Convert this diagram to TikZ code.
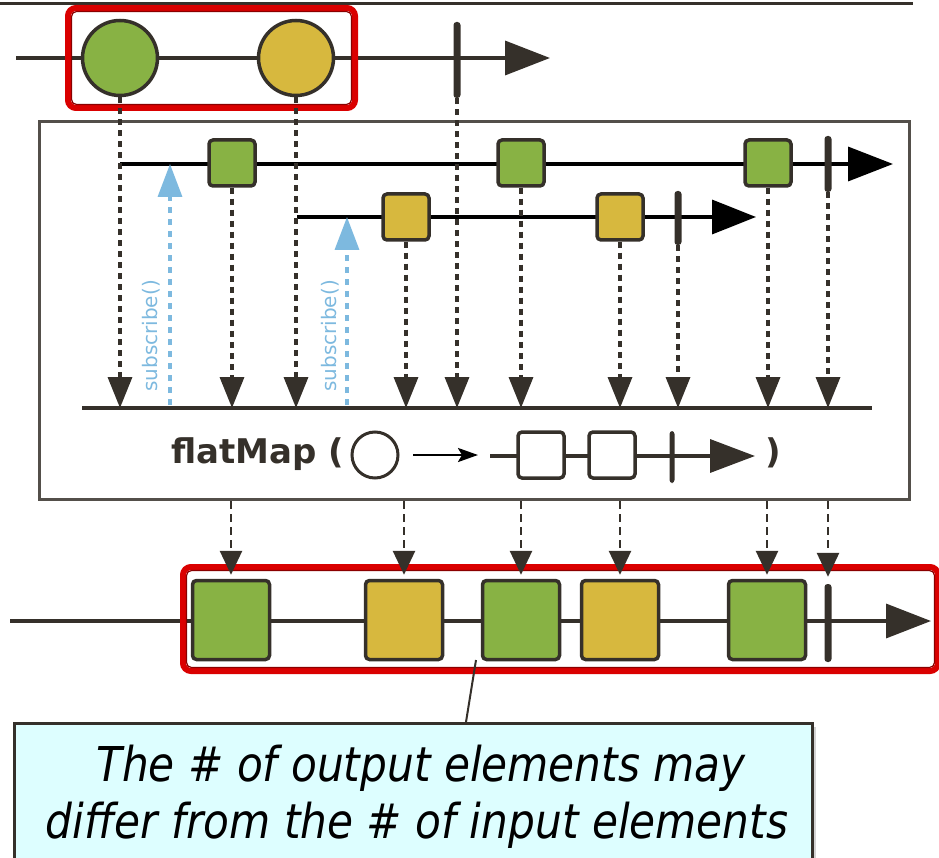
\documentclass[tikz,border=0pt]{standalone}
\usepackage{fontspec}
\setmainfont{DejaVu Sans}
\newfontfamily\notefont[FakeStretch=0.88]{DejaVu Sans}
\usetikzlibrary{arrows.meta,shadows}

\definecolor{ink}{HTML}{35302A}
\definecolor{mgreen}{HTML}{88B244}
\definecolor{mgold}{HTML}{D7B83E}
\definecolor{subblue}{HTML}{7DB9DF}
\definecolor{hilite}{HTML}{DA0000}
\definecolor{hilitedark}{HTML}{8A0000}
\definecolor{notefill}{HTML}{DDFEFF}

\begin{document}
\begin{tikzpicture}[x=1pt,y=-1pt,
  axis/.style={draw=ink,line width=3.5pt},
  bigtip/.style={-{Triangle[length=45pt,width=34pt]}},
  marble/.style={circle,draw=ink,line width=3.5pt,minimum size=75pt,inner sep=0pt},
  item/.style={rectangle,rounded corners=4pt,draw=ink,line width=3.5pt,minimum size=46pt,inner sep=0pt},
  outitem/.style={item,minimum width=77pt,minimum height=79pt},
  endbar/.style={rectangle,fill=ink,rounded corners=3pt,minimum width=7pt,inner sep=0pt},
  drop/.style={draw=ink,line width=3.5pt,dash pattern=on 6pt off 5pt,-{Triangle[length=31pt,width=24pt]}},
  outdrop/.style={draw=ink,line width=2.8pt,dash pattern=on 8pt off 5pt,-{Triangle[length=24pt,width=22pt]}},
  sub/.style={draw=subblue,line width=3.5pt,dash pattern=on 6pt off 6pt,-{Triangle[length=33pt,width=24pt]}},
  frame/.style={draw=hilite,line width=6pt,rounded corners=8pt},
  frameedge/.style={draw=hilitedark,line width=1.2pt,rounded corners=5pt},
  sublabel/.style={rotate=90,text=subblue,font=\fontsize{20}{24}\selectfont,inner sep=0pt}
]
\useasboundingbox (0,0) rectangle (939,858);

% header rule
\draw[ink,line width=3pt] (0,4) -- (913,4);

% ---------- source stream ----------
\coordinate (srcL) at (16,58);
\coordinate (srcR) at (550,58);
\draw[axis,bigtip] (srcL) -- (srcR);
\node[marble,fill=mgreen] (c1) at (120,58) {};
\node[marble,fill=mgold]  (c2) at (296,58) {};
\node[endbar,minimum height=76pt] (t0) at (457,60) {};
\draw[frame] (68,8) rectangle (355,108);
\draw[frameedge] (71.5,11.5) rectangle (351.5,104.5);

% ---------- operator box ----------
\node[draw=ink!85,line width=3pt,minimum width=870pt,minimum height=378pt,
      anchor=north west,inner sep=0pt] (op) at (38,120) {};

% inner stream 1 (green)
\coordinate (a1L) at (120,164);
\coordinate (a1R) at (893,164);
\draw[draw=black,line width=3.5pt,bigtip] (a1L) -- (a1R);
\node[item,fill=mgreen] (g1) at (232,163) {};
\node[item,fill=mgreen] (g2) at (521,163) {};
\node[item,fill=mgreen] (g3) at (768,163) {};
\node[endbar,minimum height=56pt] (t1) at (828,164) {};

% inner stream 2 (gold)
\coordinate (a2L) at (297,217);
\coordinate (a2R) at (756,217);
\draw[draw=black,line width=3.5pt,-{Triangle[length=44pt,width=34pt]}] (a2L) -- (a2R);
\node[item,fill=mgold] (y1) at (406,217) {};
\node[item,fill=mgold] (y2) at (620,217) {};
\node[endbar,minimum height=54pt] (t2) at (678,218) {};

% merge line
\coordinate (mL) at (82,408);
\coordinate (mR) at (872,408);
\draw[axis] (mL) -- (mR);

% subscriptions
\coordinate (s1) at (170,405);
\coordinate (s2) at (347,405);
\draw[sub] (s1) -- (a1L -| s1);
\draw[sub] (s2) -- (a2L -| s2);
\node[sublabel] (l1) at (151,336) {subscribe()};
\node[sublabel] (l2) at (330,336) {subscribe()};

% emissions onto the merge line
\draw[drop] (c1.south) -- (c1.south |- mL);
\draw[drop] (g1.south) -- (g1.south |- mL);
\draw[drop] (c2.south) -- (c2.south |- mL);
\draw[drop] (y1.south) -- (y1.south |- mL);
\draw[drop] (t0.south) -- (t0.south |- mL);
\draw[drop] (g2.south) -- (g2.south |- mL);
\draw[drop] (y2.south) -- (y2.south |- mL);
\draw[drop] (t2.south) -- (t2.south |- mL);
\draw[drop] (g3.south) -- (g3.south |- mL);
\draw[drop] (t1.south) -- (t1.south |- mL);

% operator signature
\node[anchor=base west,inner sep=0pt,text=ink,font=\fontsize{34}{40}\selectfont\bfseries] (fm) at (171,463) {flatMap (};
\node[circle,draw=ink,line width=3pt,minimum size=46pt,inner sep=0pt] (fc) at (375,455) {};
\coordinate (fa) at (413,455);
\coordinate (fb) at (478,455);
\draw[black,line width=2.5pt,-{Stealth[length=20pt,width=14pt,inset=4pt]}] (fa) -- (fb);
\coordinate (fsL) at (490,456);
\coordinate (fsR) at (755,456);
\draw[axis,-{Triangle[length=45pt,width=33pt]}] (fsL) -- (fsR);
\node[item,fill=white] (w1) at (541,455) {};
\node[item,fill=white] (w2) at (612,455) {};
\node[endbar,minimum width=5pt,minimum height=52pt] (t3) at (672,457) {};
\node[anchor=base,inner sep=0pt,text=ink,font=\fontsize{34}{40}\selectfont\bfseries] (fp) at (773,463) {)};

% ---------- result stream ----------
\coordinate (oL) at (10,621);
\coordinate (oR) at (931,621);
\draw[axis,bigtip] (oL) -- (oR);
\node[outitem,fill=mgreen] (o1) at (231,620) {};
\node[outitem,fill=mgold]  (o2) at (404,620) {};
\node[outitem,fill=mgreen] (o3) at (521,620) {};
\node[outitem,fill=mgold]  (o4) at (620,620) {};
\node[outitem,fill=mgreen] (o5) at (767,620) {};
\node[endbar,minimum height=78pt] (t4) at (828,623) {};
\draw[frame] (183,567) rectangle (938,671);
\draw[frameedge] (186.5,570.5) rectangle (934.5,667.5);

\draw[outdrop] (op.south -| o1.north) -- ([yshift=4pt]o1.north);
\draw[outdrop] (op.south -| o2.north) -- ([yshift=4pt]o2.north);
\draw[outdrop] (op.south -| o3.north) -- ([yshift=4pt]o3.north);
\draw[outdrop] (op.south -| o4.north) -- ([yshift=4pt]o4.north);
\draw[outdrop] (op.south -| o5.north) -- ([yshift=4pt]o5.north);
\draw[outdrop] (op.south -| t4.north) -- ([yshift=7pt]t4.north);

% ---------- note ----------
\node[draw=ink,line width=2.5pt,fill=notefill,minimum width=798pt,minimum height=160pt,
      anchor=north west,inner sep=0pt,
      drop shadow={shadow xshift=4pt,shadow yshift=-4pt,opacity=0.35}] (note) at (13,722) {};
\coordinate (lead) at (476,660);
\draw[ink,line width=2pt] (lead) -- ([xshift=-10pt]lead |- note.north);
\node[anchor=base,inner sep=0pt,font=\fontsize{48}{58}\notefont\itshape] (n1) at (421,781) {The \# of output elements may};
\node[anchor=base,inner sep=0pt,font=\fontsize{48}{58}\notefont\itshape] (n2) at (417,838) {differ from the \# of input elements};
\end{tikzpicture}
\end{document}
